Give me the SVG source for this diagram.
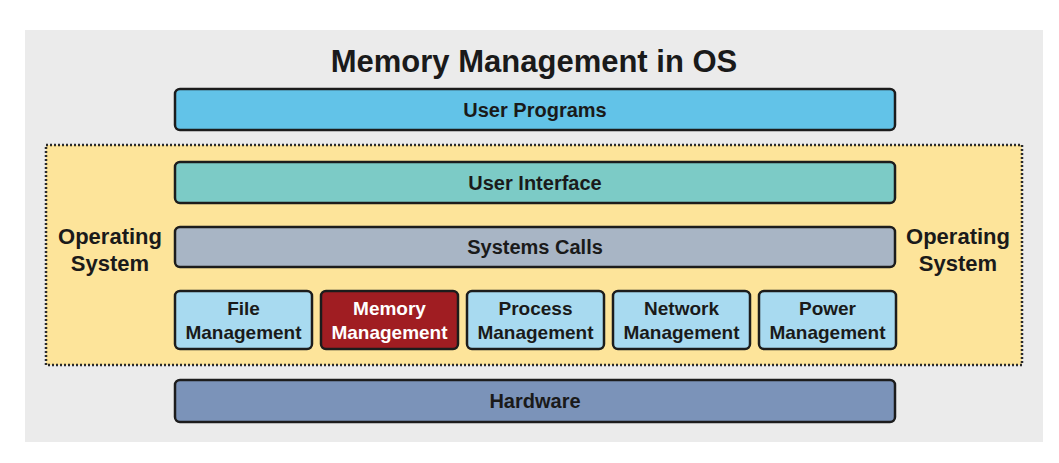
<svg xmlns="http://www.w3.org/2000/svg" width="1059" height="463" viewBox="0 0 1059 463">
<style>
text{font-family:"Liberation Sans",Arial,sans-serif;font-weight:bold;text-anchor:middle;fill:#1a1a1a}
.box{stroke:#1c1c1c;stroke-width:2.5}
.t{font-size:20px}
.s{font-size:19px}
.o{font-size:22px}
.w{fill:#ffffff}
</style>
<rect x="0" y="0" width="1059" height="463" fill="#ffffff"/>
<rect x="25" y="30" width="1018" height="412" fill="#ebebeb"/>
<text x="534" y="72" font-size="31">Memory Management in OS</text>
<g id="user-programs">
<rect class="box" x="175" y="89" width="720" height="41" rx="5" fill="#62c3e8"/>
<text class="t" x="535" y="117">User Programs</text>
</g>
<g id="operating-system">
<rect x="46" y="145" width="976" height="220" fill="#fde49a" stroke="#2a2a2a" stroke-width="2.5" stroke-dasharray="2 2"/>
<text class="o" x="110" y="244">Operating</text>
<text class="o" x="110" y="271">System</text>
<text class="o" x="958" y="244">Operating</text>
<text class="o" x="958" y="271">System</text>
</g>
<g id="user-interface">
<rect class="box" x="175" y="162" width="720" height="41" rx="5" fill="#7ccbc6"/>
<text class="t" x="535" y="190">User Interface</text>
</g>
<g id="system-calls">
<rect class="box" x="175" y="227" width="720" height="40" rx="5" fill="#a8b5c5"/>
<text class="t" x="535" y="254">Systems Calls</text>
</g>
<g id="file-management">
<rect class="box" x="175" y="291" width="137" height="58" rx="5" fill="#a8daf0"/>
<text class="s" x="243.5" y="315">File</text>
<text class="s" x="243.5" y="339">Management</text>
</g>
<g id="memory-management">
<rect class="box" x="321" y="291" width="137" height="58" rx="5" fill="#a01d22"/>
<text class="s w" x="389.5" y="315">Memory</text>
<text class="s w" x="389.5" y="339">Management</text>
</g>
<g id="process-management">
<rect class="box" x="467" y="291" width="137" height="58" rx="5" fill="#a8daf0"/>
<text class="s" x="535.5" y="315">Process</text>
<text class="s" x="535.5" y="339">Management</text>
</g>
<g id="network-management">
<rect class="box" x="613" y="291" width="137" height="58" rx="5" fill="#a8daf0"/>
<text class="s" x="681.5" y="315">Network</text>
<text class="s" x="681.5" y="339">Management</text>
</g>
<g id="power-management">
<rect class="box" x="759" y="291" width="137" height="58" rx="5" fill="#a8daf0"/>
<text class="s" x="827.5" y="315">Power</text>
<text class="s" x="827.5" y="339">Management</text>
</g>
<g id="hardware">
<rect class="box" x="175" y="380" width="720" height="42" rx="5" fill="#7b93b9"/>
<text class="t" x="535" y="408">Hardware</text>
</g>
<g id="connectors"></g>
</svg>
